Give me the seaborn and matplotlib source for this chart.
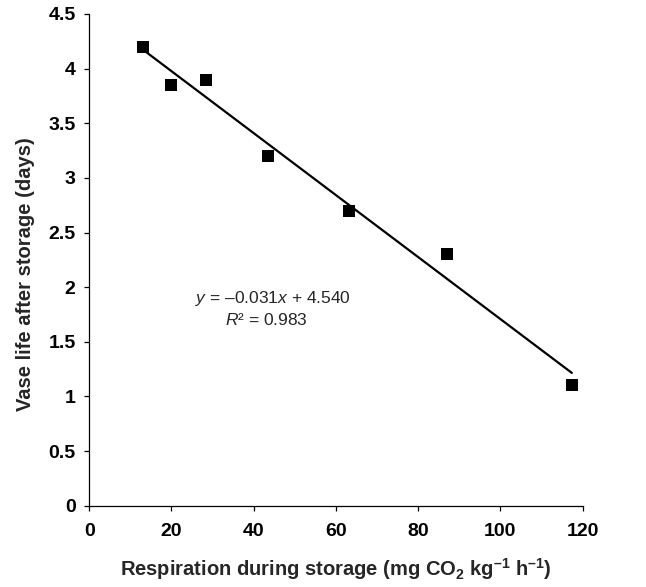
"""Vase life vs respiration during storage — scatter with linear fit."""

import matplotlib
matplotlib.use("Agg")
import matplotlib.pyplot as plt
import matplotlib.ticker as mticker
import seaborn as sns
import pandas as pd

# values
respiration = [13.1, 19.8, 28.4, 43.6, 63.1, 87.0, 117.4]
vase_life = [4.20, 3.85, 3.90, 3.20, 2.70, 2.30, 1.10]
x_ticks = [0, 20, 40, 60, 80, 100, 120]
y_ticks = [0, 0.5, 1, 1.5, 2, 2.5, 3, 3.5, 4, 4.5]
equation = r"$\mathit{y}$ = –0.031$\mathit{x}$ + 4.540"
r_squared = r"$\mathit{R}$² = 0.983"

df = pd.DataFrame({"resp": respiration, "life": vase_life})

sns.set_style("ticks")
plt.rcParams.update({
    "font.family": ["Liberation Sans", "DejaVu Sans"],
    "mathtext.fontset": "custom",
    "mathtext.default": "regular",
    "mathtext.rm": "Liberation Sans",
    "mathtext.it": "Liberation Sans:italic",
    "axes.edgecolor": "black",
    "axes.linewidth": 0.9,
    "xtick.color": "black",
    "ytick.color": "black",
})

fig = plt.figure(figsize=(6.46, 5.87), dpi=100)
ax = fig.add_axes([0.138, 0.1385, 0.7638, 0.8377])

sns.regplot(data=df, x="resp", y="life", ax=ax, ci=None, marker="s",
            scatter_kws={"s": 68, "color": "black", "alpha": 1,
                         "linewidths": 0, "zorder": 3},
            line_kws={"color": "black", "lw": 1.6})

ax.set_xlim(0, 120)
ax.set_ylim(0, 4.5)
ax.set_xticks(x_ticks)
ax.set_yticks(y_ticks)
ax.yaxis.set_major_formatter(mticker.FuncFormatter(lambda v, p: f"{v:g}"))
ax.tick_params(direction="out", length=3.8, width=0.9, labelsize=14)
ax.tick_params(axis="x", pad=9)
ax.tick_params(axis="y", pad=6)
for lab in ax.get_xticklabels() + ax.get_yticklabels():
    lab.set_fontweight("bold")
sns.despine(ax=ax)

ax.set_xlabel(r"Respiration during storage (mg CO$_{2}$ kg$^{–1}$ h$^{–1}$)",
              fontsize=14.5, fontweight="bold", labelpad=11)
ax.set_ylabel("Vase life after storage (days)", fontsize=14.5, fontweight="bold", labelpad=11)
ax.yaxis.set_label_coords(-0.11, 0.47)

ax.text(25.7, 1.853, equation, fontsize=12.5, ha="left", va="baseline")
ax.text(33.0, 1.65, r_squared, fontsize=12.5, ha="left", va="baseline")

fig.savefig("out.png", dpi=100, facecolor="white")
